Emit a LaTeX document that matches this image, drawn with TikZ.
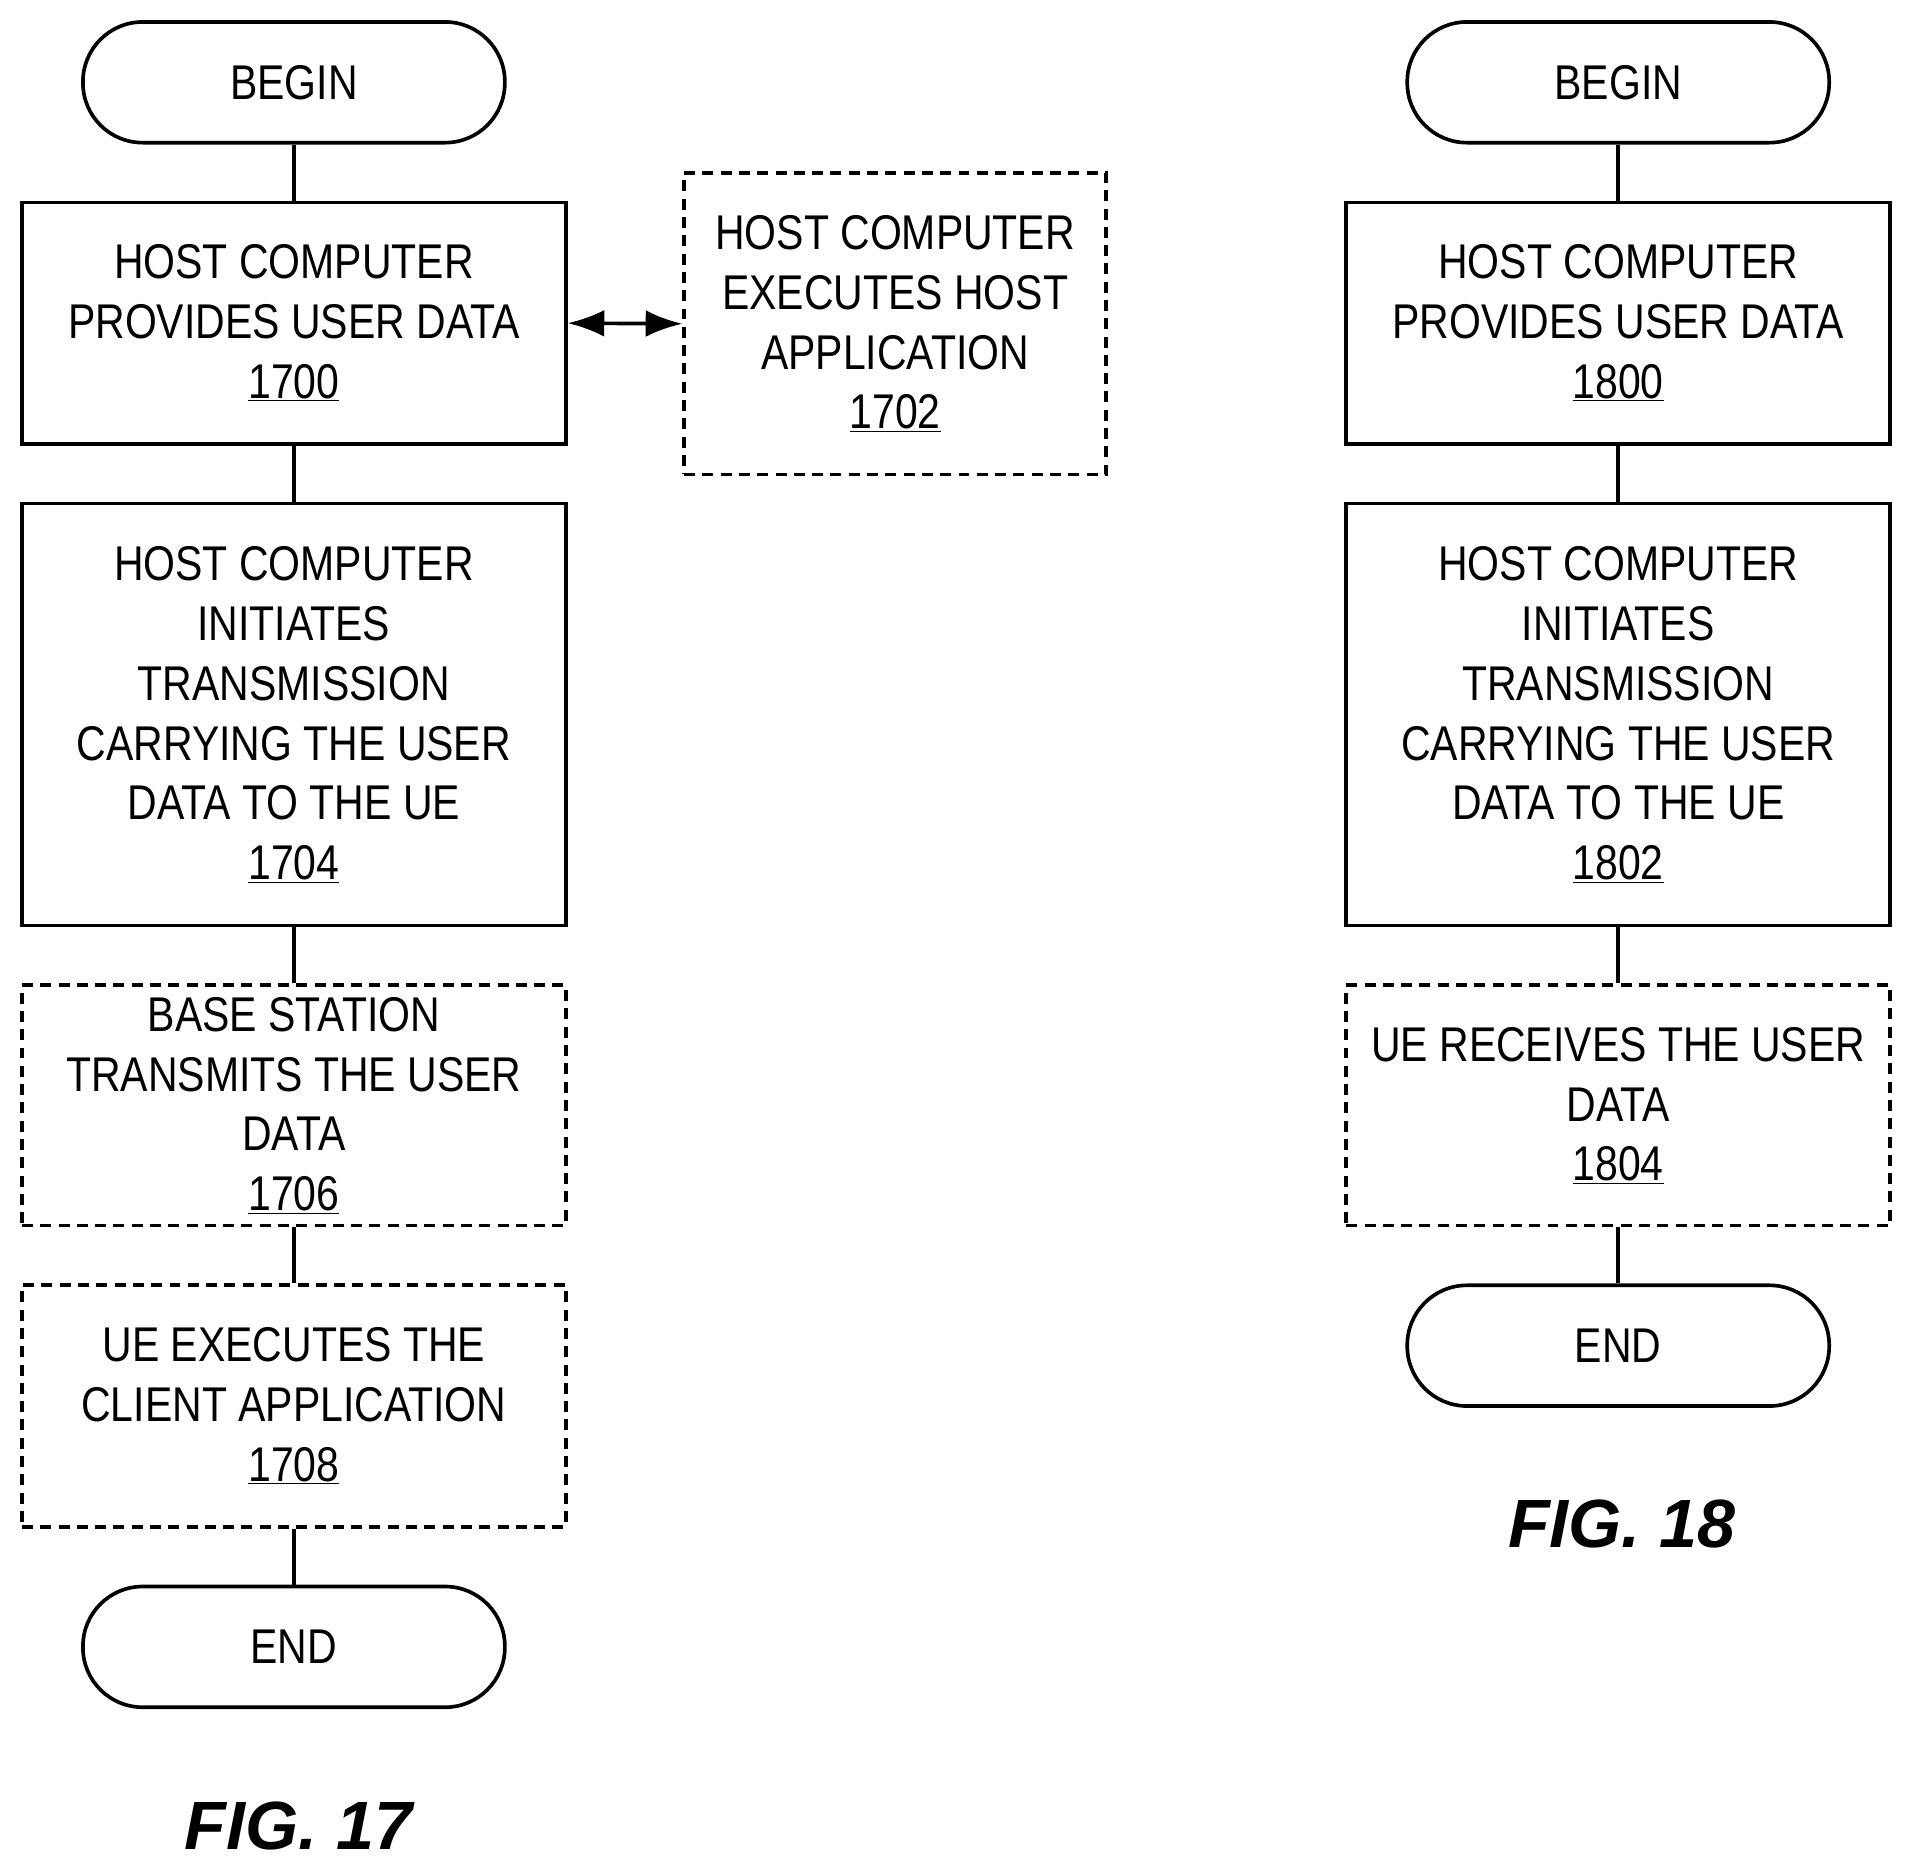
\documentclass[tikz,border=0pt]{standalone}
\usepackage{fontspec}
\usetikzlibrary{arrows.meta}
\setmainfont{Liberation Sans}[FakeStretch=0.84]
\newfontfamily\figfont{Liberation Sans}
\begin{document}
\begin{tikzpicture}[x=1pt,y=-1pt,
  every node/.style={font=\fontsize{40}{49}\selectfont, align=center, inner sep=0pt},
  box/.style={draw, line width=3pt, minimum width=446pt},
  dbox/.style={box, dash pattern=on 9pt off 6pt},
  term/.style={draw, line width=3pt, rounded corners=49pt, minimum width=346pt, minimum height=99pt},
  ln/.style={line width=3pt},
  fig/.style={font=\figfont\fontsize{56}{60}\selectfont\bfseries\itshape}]
\useasboundingbox (0,0) rectangle (1563,1528);
\node[term] (b1) at (241,67.5) {BEGIN};
\node[box, minimum height=198pt] (n1700) at (241,265) {HOST COMPUTER\\PROVIDES USER DATA\\\underline{1700}};
\node[dbox, minimum width=346pt, minimum height=247pt] (n1702) at (734,265.5) {HOST COMPUTER\\EXECUTES HOST\\APPLICATION\\\underline{1702}};
\node[box, minimum height=346pt] (n1704) at (241,586) {HOST COMPUTER\\INITIATES\\TRANSMISSION\\CARRYING THE USER\\DATA TO THE UE\\\underline{1704}};
\node[dbox, minimum height=197pt] (n1706) at (241,906.5) {BASE STATION\\TRANSMITS THE USER\\DATA\\\underline{1706}};
\node[dbox, minimum height=198pt] (n1708) at (241,1153) {UE EXECUTES THE\\CLIENT APPLICATION\\\underline{1708}};
\node[term] (e1) at (241,1350.5) {END};
\node[fig] (f17) at (245,1497) {FIG. 17};
\draw[ln] (b1) -- (n1700);
\draw[ln] (n1700) -- (n1704);
\draw[ln] (n1704) -- (n1706);
\draw[ln] (n1706) -- (n1708);
\draw[ln] (n1708) -- (e1);
\draw[ln, {Latex[length=30pt,width=22pt]}-{Latex[length=30pt,width=22pt]}] (n1700.east) -- (n1702.west);

\node[term] (b2) at (1327,67.5) {BEGIN};
\node[box, minimum height=198pt] (n1800) at (1327,265) {HOST COMPUTER\\PROVIDES USER DATA\\\underline{1800}};
\node[box, minimum height=346pt] (n1802) at (1327,586) {HOST COMPUTER\\INITIATES\\TRANSMISSION\\CARRYING THE USER\\DATA TO THE UE\\\underline{1802}};
\node[dbox, minimum height=197pt] (n1804) at (1327,906.5) {UE RECEIVES THE USER\\DATA\\\underline{1804}};
\node[term] (e2) at (1327,1103.5) {END};
\node[fig] (f18) at (1330,1250) {FIG. 18};
\draw[ln] (b2) -- (n1800);
\draw[ln] (n1800) -- (n1802);
\draw[ln] (n1802) -- (n1804);
\draw[ln] (n1804) -- (e2);
\end{tikzpicture}
\end{document}
